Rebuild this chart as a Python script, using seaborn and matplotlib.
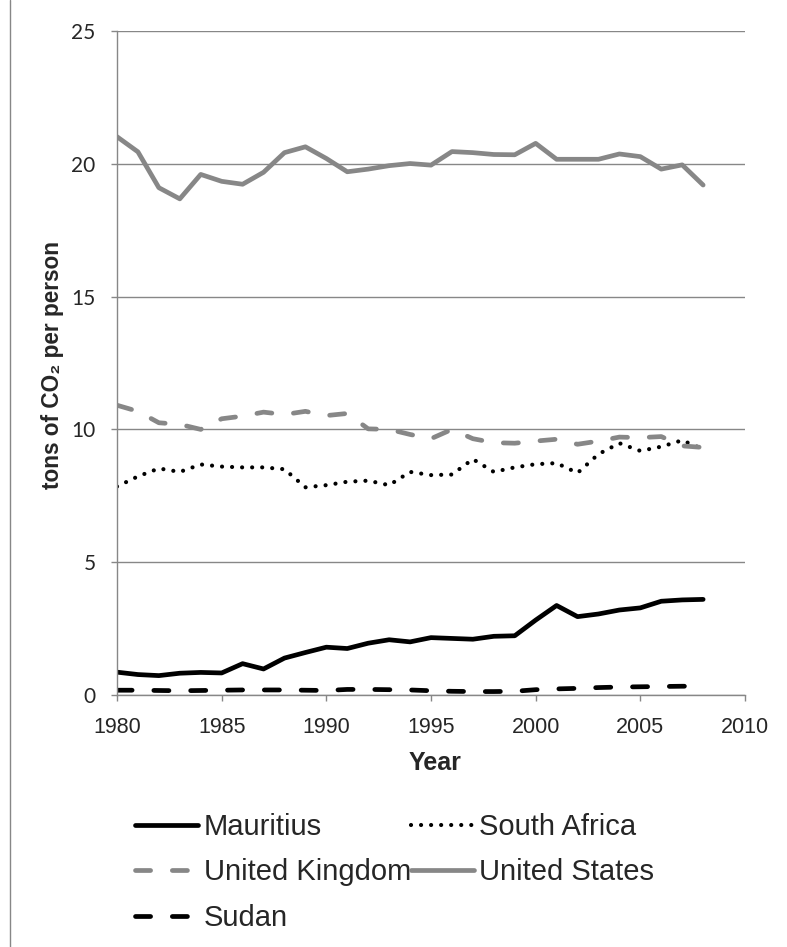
import pandas as pd
import matplotlib.pyplot as plt
import seaborn as sns
from matplotlib.lines import Line2D

# Per-capita CO2 emissions, tons per person
years = list(range(1980, 2009))
mauritius = [0.86, 0.77, 0.73, 0.82, 0.85, 0.83, 1.18, 0.98, 1.39, 1.60,
             1.80, 1.75, 1.95, 2.08, 2.00, 2.16, 2.13, 2.10, 2.21, 2.23,
             2.82, 3.37, 2.95, 3.05, 3.20, 3.28, 3.53, 3.58, 3.60]
south_africa = [7.85, 8.23, 8.53, 8.40, 8.68, 8.60, 8.57, 8.57, 8.50, 7.82,
                7.90, 8.03, 8.07, 7.90, 8.40, 8.28, 8.30, 8.88, 8.40, 8.57,
                8.69, 8.73, 8.36, 9.07, 9.48, 9.19, 9.35, 9.59, 9.25]
united_kingdom = [10.91, 10.68, 10.25, 10.19, 10.00, 10.40, 10.50, 10.65, 10.56, 10.68,
                  10.52, 10.60, 10.02, 10.00, 9.81, 9.65, 10.00, 9.65, 9.50, 9.48,
                  9.56, 9.63, 9.44, 9.56, 9.71, 9.69, 9.73, 9.38, 9.32]
united_states = [21.02, 20.45, 19.10, 18.68, 19.60, 19.34, 19.23, 19.68, 20.42, 20.64,
                 20.20, 19.70, 19.80, 19.93, 20.01, 19.95, 20.46, 20.42, 20.35, 20.34,
                 20.77, 20.17, 20.17, 20.17, 20.37, 20.27, 19.80, 19.96, 19.20]
sudan = [0.18, 0.18, 0.17, 0.16, 0.17, 0.18, 0.19, 0.19, 0.19, 0.18,
         0.17, 0.21, 0.21, 0.20, 0.19, 0.16, 0.14, 0.13, 0.13, 0.14,
         0.20, 0.23, 0.25, 0.28, 0.30, 0.31, 0.32, 0.33, 0.33]

x_ticks = [1980, 1985, 1990, 1995, 2000, 2005, 2010]
y_ticks = [0, 5, 10, 15, 20, 25]

grey = "#878787"
series = [
    ("Mauritius", mauritius, "black", None, 3.4),
    ("South Africa", south_africa, "black", (0.01, 2.4), 3.0),
    ("United Kingdom", united_kingdom, grey, (3.2, 4.6), 3.4),
    ("United States", united_states, grey, None, 3.4),
    ("Sudan", sudan, "black", (3.2, 4.6), 3.4),
]

sns.set_style("white")
plt.rcParams['font.family'] = ['Liberation Sans', 'DejaVu Sans']

fig = plt.figure(figsize=(7.87, 9.47), dpi=100)
ax = fig.add_axes([117 / 787, 1 - 695 / 947, 628 / 787, 664 / 947])

handles = {}
for name, vals, color, dash, lw in series:
    df = pd.DataFrame({"year": years, "co2": vals})
    sns.lineplot(data=df, x="year", y="co2", ax=ax, color=color, linewidth=lw,
                 label=name, legend=False)
    line = ax.lines[-1]
    line.set_solid_capstyle("round")
    line.set_solid_joinstyle("round")
    if dash is not None:
        line.set_dashes(dash)
        line.set_dash_capstyle("round")
    handles[name] = line

ax.set_xlim(1980, 2010)
ax.set_ylim(0, 25)
ax.set_xticks(x_ticks)
ax.set_yticks(y_ticks)
ax.grid(axis="y", color=grey, linewidth=1.0)
ax.grid(axis="x", visible=False)
for side in ["top", "right"]:
    ax.spines[side].set_visible(False)
for side in ["left", "bottom"]:
    ax.spines[side].set_color(grey)
    ax.spines[side].set_linewidth(1.0)

ax.tick_params(axis="x", direction="out", length=4.5, width=1, color=grey,
               pad=11, labelsize=15.5, bottom=True)
ax.tick_params(axis="y", direction="out", length=4.5, width=1, color=grey,
               pad=11, labelsize=15, left=True)
for lab in ax.get_yticklabels():
    lab.set_family(["Lato", "DejaVu Sans"])

ax.set_xlabel("Year", fontsize=18, fontweight="bold")
ax.xaxis.label.set_va("center")
ax.xaxis.set_label_coords((435 - 117) / 628, (695 - 763) / 664)
ax.set_ylabel("tons of CO₂ per person", fontsize=16.3, fontweight="bold")
ax.yaxis.label.set_va("center")
ax.yaxis.set_label_coords((53 - 117) / 628, (695 - 365) / 664)

# legend is filled column-wise, so order to match the row layout
order = ["Mauritius", "United Kingdom", "Sudan", "South Africa", "United States"]
fig.legend([handles[n] for n in order], order, loc="upper left",
           bbox_to_anchor=(135 / 787, 1 - 813 / 947), ncol=2, frameon=False,
           fontsize=21, handlelength=2.15, handletextpad=0.2, columnspacing=0,
           labelspacing=0.6, borderpad=0, borderaxespad=0)

# chart-area border visible on the left edge
fig.add_artist(Line2D([10 / 787, 10 / 787], [0, 1], transform=fig.transFigure,
                      color=grey, linewidth=1.0))

fig.savefig("out.png", dpi=100)
